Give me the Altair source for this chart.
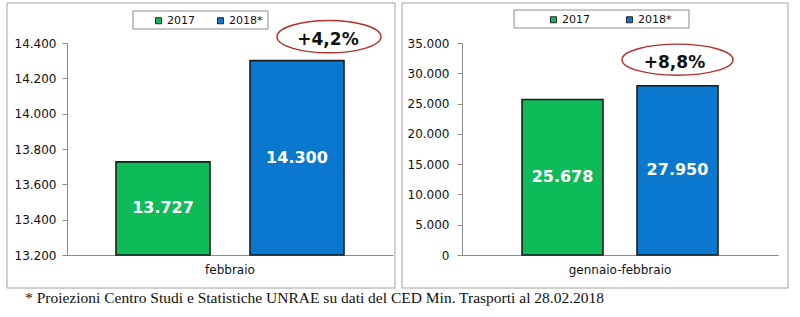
import altair as alt
import pandas as pd

years = ["2017", "2018*"]
periods = ["febbraio", "gennaio-febbraio"]
feb_values = [13727, 14300]
genfeb_values = [25678, 27950]
growth_labels = ["+4,2%", "+8,8%"]
left_ticks = [13200, 13400, 13600, 13800, 14000, 14200, 14400]
right_ticks = [0, 5000, 10000, 15000, 20000, 25000, 30000, 35000]
bar_colors = ["#0EBB58", "#0A78CE"]
footnote = "* Proiezioni Centro Studi e Statistiche UNRAE su dati del CED Min. Trasporti al 28.02.2018"

AXIS_FONT = "DejaVu Sans"


def ellipse_path(r, cx):
    k = 0.5523
    pts = [(-1, 0), (-1, -k * r), (-k, -r), (0, -r), (k, -r), (1, -k * r), (1, 0),
           (1, k * r), (k, r), (0, r), (-k, r), (-1, k * r), (-1, 0)]
    s = [f"{x + cx:.4f} {y:.4f}" for x, y in pts]
    return (f"M {s[0]} C {s[1]} {s[2]} {s[3]} C {s[4]} {s[5]} {s[6]} "
            f"C {s[7]} {s[8]} {s[9]} C {s[10]} {s[11]} {s[12]} Z")


def panel(period, values, growth, ticks, width, height, p_in, p_out,
          leg_box, leg_xy, col_pad, frame, ell, txt, note, lab_pad):
    lo, hi = ticks[0], ticks[-1]
    df = pd.DataFrame({
        "period": [period] * len(years),
        "year": years,
        "value": values,
        "mid": [(lo + v) / 2 for v in values],
        "label": [f"{v:,}".replace(",", ".") for v in values],
    })
    one = pd.DataFrame({"period": [period], "year": [years[-1]],
                        "value": [values[-1]], "growth": [growth]})

    x = alt.X("period:N", title=None,
              scale=alt.Scale(paddingInner=0, paddingOuter=0),
              axis=alt.Axis(ticks=False, labelAngle=0, labelPadding=9,
                            labelFontSize=12, domainColor="#8c8c8c"))
    xo = alt.XOffset("year:N", scale=alt.Scale(domain=years, paddingInner=p_in,
                                                paddingOuter=p_out))
    yscale = alt.Scale(domain=[lo, hi], nice=False, zero=False)
    yaxis = alt.Axis(values=ticks, grid=False, tickSize=5, labelPadding=lab_pad,
                     labelExpr="replace(format(datum.value, ','), ',', '.')")

    def Y(field):
        return alt.Y(field, scale=yscale, title=None, axis=yaxis)

    frame_l = alt.Chart(one).mark_rect(fillOpacity=0, stroke="#a0a0a0", strokeWidth=1).encode(
        x=alt.value(frame[0]), x2=alt.value(frame[1]),
        y=alt.value(frame[2]), y2=alt.value(frame[3]))
    legbox = alt.Chart(one).mark_rect(fill="white", stroke="#8c8c8c", strokeWidth=1).encode(
        x=alt.value(leg_box[0]), x2=alt.value(leg_box[1]),
        y=alt.value(leg_box[2]), y2=alt.value(leg_box[3]))

    bars = alt.Chart(df).mark_bar(stroke="#1c1c1c", strokeWidth=1.6).encode(
        x=x, xOffset=xo,
        y=Y("value:Q"), y2=alt.datum(lo),
        color=alt.Color("year:N",
                        scale=alt.Scale(domain=years, range=bar_colors),
                        legend=alt.Legend(title=None, orient="none", direction="horizontal",
                                          legendX=leg_xy[0], legendY=leg_xy[1],
                                          symbolType="square", symbolSize=36,
                                          symbolStrokeColor="#222", symbolStrokeWidth=1,
                                          symbolOpacity=1,
                                          labelFont=AXIS_FONT, labelFontSize=11,
                                          labelColor="#111", labelOffset=3,
                                          columnPadding=col_pad, padding=0)),
    )
    labels = alt.Chart(df).mark_text(color="white", font=AXIS_FONT, fontSize=16,
                                     fontWeight="bold", baseline="middle").encode(
        x=x, xOffset=xo, y=Y("mid:Q"), text="label:N")

    w = ell[2]
    ellipse = alt.Chart(one).mark_point(shape=ellipse_path(ell[3], ell[0] / (w / 2)),
                                        size=w ** 2,
                                        filled=True, fill="white", fillOpacity=1,
                                        stroke="#b3302f", strokeWidth=1.4, opacity=1,
                                        yOffset=ell[1]).encode(
        x=x, xOffset=xo, y=Y("value:Q"))
    gtext = alt.Chart(one).mark_text(font=AXIS_FONT, fontSize=17, fontWeight="bold",
                                     color="#111", baseline="middle",
                                     dx=txt[0], dy=txt[1]).encode(
        x=x, xOffset=xo, y=Y("value:Q"), text="growth:N")

    layers = [frame_l, legbox, bars, labels, ellipse, gtext]
    if note:
        nd = pd.DataFrame({"t": [footnote]})
        layers.append(alt.Chart(nd).mark_text(font="Liberation Serif", fontSize=15.5,
                                              align="left", baseline="middle",
                                              color="#111").encode(
            x=alt.value(note[0]), y=alt.value(note[1]), text="t:N"))
    return alt.layer(*layers).properties(width=width, height=height)


left = panel(periods[0], feb_values, growth_labels[0], left_ticks, 326, 212,
             0.2985, 0.3657, (66, 201, -32, -14), (86, -28), 20,
             (-60, 328, -40, 245), (32, -24, 104, 0.31), (31, -21), (-42, 255), 6)
right = panel(periods[1], genfeb_values, growth_labels[1], right_ticks, 316, 212,
              0.296, 0.522, (52, 227, -33, -15), (86, -29), 34,
              (-60, 326, -40, 245), (0, -26, 111, 0.28), (-3, -23), None, 8)

chart = alt.hconcat(left, right, spacing=69, bounds="flush").resolve_scale(
    color="independent", y="independent", x="independent", xOffset="independent"
).resolve_legend(color="independent").properties(
    padding={"left": 6, "top": 2, "right": 4, "bottom": 4},
    background="white",
).configure_view(strokeWidth=0).configure_axis(
    labelFont=AXIS_FONT, labelFontSize=12, labelColor="#111",
    domainColor="#8c8c8c", tickColor="#8c8c8c", grid=False)

chart.save("out.html", embed_options={"renderer": "svg", "actions": False})
